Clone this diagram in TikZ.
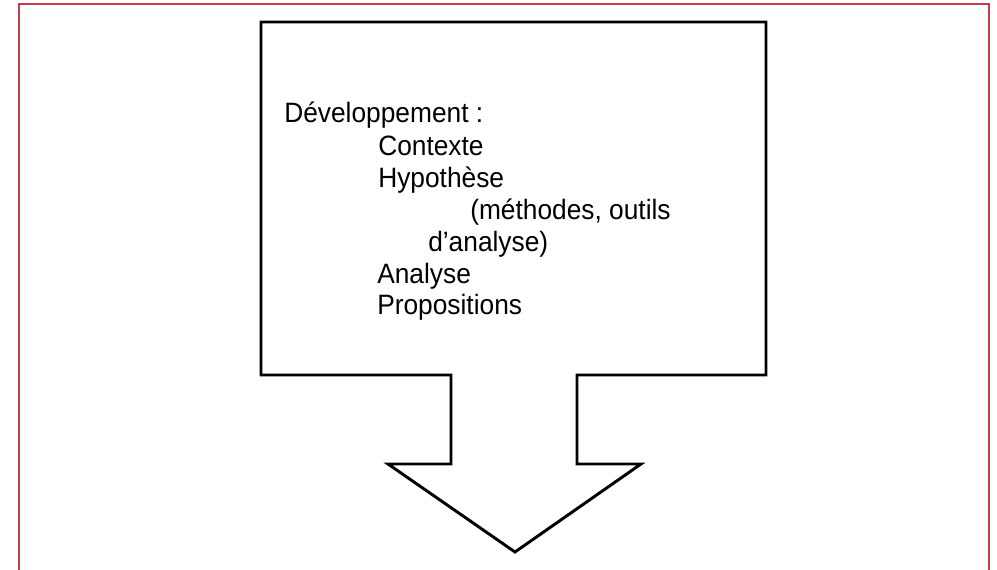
\documentclass[tikz,border=0pt]{standalone}
\usepackage{fontspec}
\setmainfont{Liberation Sans}[FakeStretch=0.94]
\definecolor{framered}{RGB}{200,60,75}

\begin{document}
\begin{tikzpicture}[x=0.75pt,y=-0.75pt,
    item/.style={anchor=base west,inner sep=0pt,font=\fontsize{21}{25}\selectfont}]
      % Page size
      \useasboundingbox (0,0) rectangle (997,570);

      % Red frame, open at the bottom
      \draw[framered,line width=1.5pt] (19,570) -- (19,4) -- (989,4) -- (989,570);

      % Box with its arrow
      \draw[line width=2.2pt,line join=miter] (261,22) -- (766,22) -- (766,375) -- (577,375)
        -- (577,464) -- (641,464) -- (515,552) -- (388,464) -- (451,464) -- (451,375)
        -- (261,375) -- cycle;

      % Text lines
      \node[item] (dev) at (284,123) {Développement :};
      \node[item] (ctx) at (378,156) {Contexte};
      \node[item] (hyp) at (378,188) {Hypothèse};
      \node[item] (met) at (470,220) {(méthodes, outils};
      \node[item] (ana) at (428,252) {d’analyse)};
      \node[item] (anl) at (377,284) {Analyse};
      \node[item] (pro) at (377,315) {Propositions};
    \end{tikzpicture}
\end{document}
